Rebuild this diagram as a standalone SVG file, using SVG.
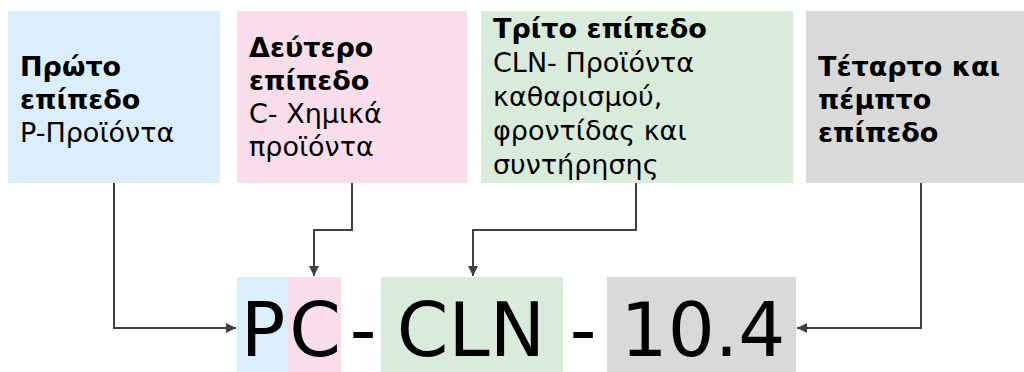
<svg xmlns="http://www.w3.org/2000/svg" width="1024" height="372" viewBox="0 0 1024 372">
<defs>
<style>
.t{font-family:"DejaVu Sans","Noto Sans",sans-serif;font-size:27px;fill:#000}
.b{font-weight:bold}
.big{font-family:"DejaVu Sans","Noto Sans",sans-serif;font-size:74px;fill:#000;text-anchor:middle}
.c{fill:none;stroke:#404040;stroke-width:2}
.blue{fill:#DAEEFB}
.pink{fill:#FADDEB}
.green{fill:#D9EBDB}
.gray{fill:#D9D9D9}
</style>
<marker id="ah" viewBox="0 0 10 10" refX="10" refY="5" markerWidth="5" markerHeight="5" orient="auto" markerUnits="strokeWidth">
<path d="M0,0 L10,5 L0,10 z" fill="#404040"/>
</marker>
</defs>
<rect width="1024" height="372" fill="#fff"/>
<g id="level1">
<rect class="blue" x="8" y="11" width="212" height="172"/>
<text class="t b" x="20" y="76">Πρώτο</text>
<text class="t b" x="20" y="109">επίπεδο</text>
<text class="t" x="20" y="142">P-Προϊόντα</text>
</g>
<g id="level2">
<rect class="pink" x="237" y="11" width="230" height="172"/>
<text class="t b" x="249" y="57">Δεύτερο</text>
<text class="t b" x="249" y="90">επίπεδο</text>
<text class="t" x="249" y="123">C- Χημικά</text>
<text class="t" x="249" y="156">προϊόντα</text>
</g>
<g id="level3">
<rect class="green" x="481" y="11" width="312" height="172"/>
<text class="t b" x="493" y="38">Τρίτο επίπεδο</text>
<text class="t" x="493" y="72">CLN- Προϊόντα</text>
<text class="t" x="493" y="106">καθαρισμού,</text>
<text class="t" x="493" y="140">φροντίδας και</text>
<text class="t" x="493" y="174">συντήρησης</text>
</g>
<g id="level45">
<rect class="gray" x="806" y="11" width="218" height="172"/>
<text class="t b" x="818" y="76">Τέταρτο και</text>
<text class="t b" x="818" y="109">πέμπτο</text>
<text class="t b" x="818" y="142">επίπεδο</text>
</g>
<g id="code">
<rect class="blue" x="237" y="277" width="50" height="95"/>
<rect class="pink" x="287" y="277" width="54" height="95"/>
<rect class="green" x="381" y="277" width="182" height="95"/>
<rect class="gray" x="607" y="277" width="189" height="95"/>
<text class="big" x="263" y="356">P</text>
<text class="big" x="315" y="356">C</text>
<text class="big" x="363" y="356">-</text>
<text class="big" x="471" y="356">CLN</text>
<text class="big" x="583" y="356">-</text>
<text class="big" x="703" y="356">10.4</text>
</g>
<g id="connectors">
<path class="c" d="M114 183 V328 H236" marker-end="url(#ah)"/>
<path class="c" d="M352 183 V230 H314 V276" marker-end="url(#ah)"/>
<path class="c" d="M636 183 V230 H473 V276" marker-end="url(#ah)"/>
<path class="c" d="M921 183 V328 H797" marker-end="url(#ah)"/>
</g>
</svg>
